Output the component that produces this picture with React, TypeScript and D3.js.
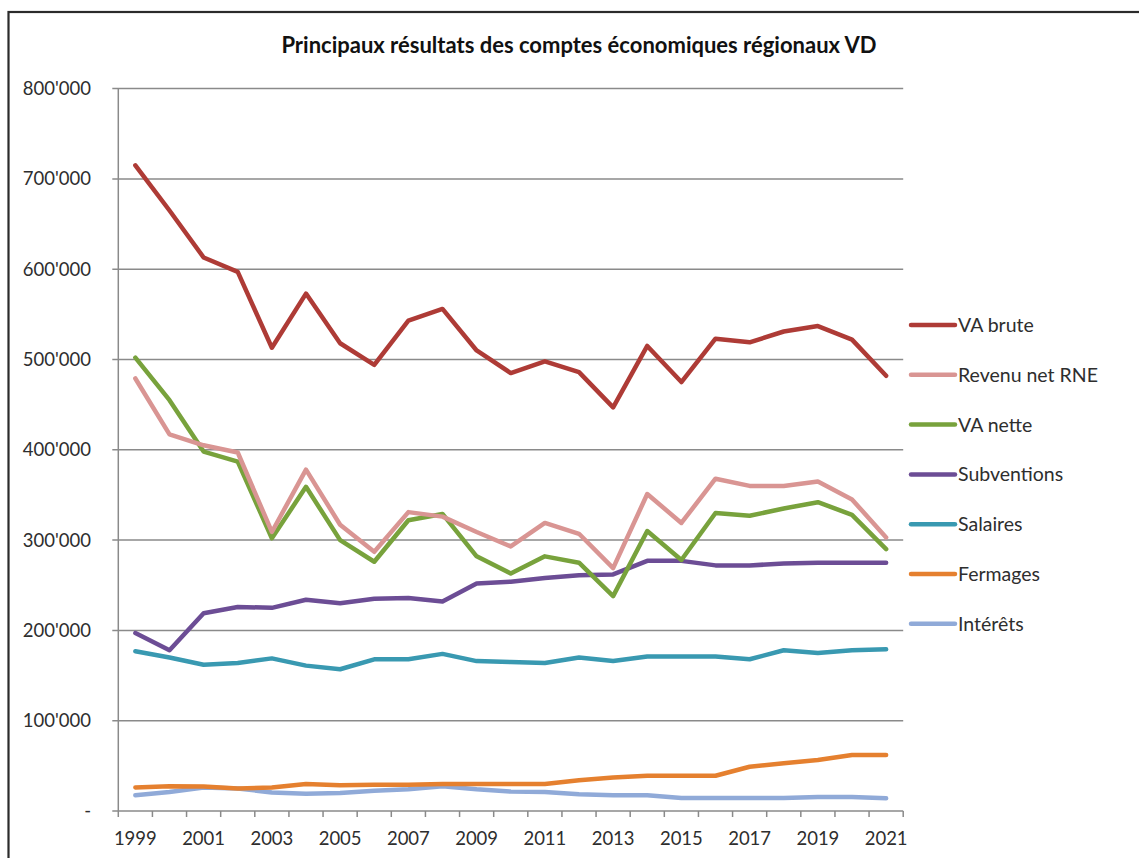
import React, { useRef, useEffect } from "react";
import * as d3 from "d3";

// Années (catégories)
const years = [
  1999, 2000, 2001, 2002, 2003, 2004, 2005, 2006, 2007, 2008, 2009, 2010, 2011,
  2012, 2013, 2014, 2015, 2016, 2017, 2018, 2019, 2020, 2021,
];

// Séries (en francs)
const vaBrute = [
  715000, 665000, 613000, 597000, 513000, 573000, 518000, 494000, 543000,
  556000, 510000, 485000, 498000, 486000, 447000, 515000, 475000, 523000,
  519000, 531000, 537000, 522000, 482000,
];
const revenuNet = [
  479000, 417000, 405000, 397000, 309000, 378000, 317000, 287000, 331000,
  326000, 309000, 293000, 319000, 307000, 269000, 351000, 319000, 368000,
  360000, 360000, 365000, 345000, 303000,
];
const vaNette = [
  502000, 455000, 398000, 387000, 302000, 359000, 300000, 276000, 322000,
  329000, 282000, 263000, 282000, 275000, 238000, 310000, 278000, 330000,
  327000, 335000, 342000, 328000, 290000,
];
const subventions = [
  197000, 178000, 219000, 226000, 225000, 234000, 230000, 235000, 236000,
  232000, 252000, 254000, 258000, 261000, 262000, 277000, 277000, 272000,
  272000, 274000, 275000, 275000, 275000,
];
const salaires = [
  177000, 170000, 162000, 164000, 169000, 161000, 157000, 168000, 168000,
  174000, 166000, 165000, 164000, 170000, 166000, 171000, 171000, 171000,
  168000, 178000, 175000, 178000, 179000,
];
const fermages = [
  26000, 27500, 27000, 25000, 26000, 30000, 28500, 29000, 29000, 30000, 30000,
  30000, 30000, 34000, 37000, 39000, 39000, 39000, 49000, 53000, 56500, 62000,
  62000,
];
const interets = [
  17500, 21000, 26000, 25000, 20500, 19000, 20000, 22500, 24000, 27500, 24000,
  21500, 21000, 18500, 17500, 17500, 14500, 14500, 14500, 14500, 15500, 15500,
  14000,
];

const seriesNames = [
  "VA brute",
  "Revenu net RNE",
  "VA nette",
  "Subventions",
  "Salaires",
  "Fermages",
  "Intérêts",
];
const seriesValues = [
  vaBrute,
  revenuNet,
  vaNette,
  subventions,
  salaires,
  fermages,
  interets,
];
const seriesColors = [
  "#AE3B36",
  "#D99593",
  "#78A23C",
  "#6C4D95",
  "#3999B1",
  "#E5802F",
  "#90AAD8",
];

const yTicks = [0, 100000, 200000, 300000, 400000, 500000, 600000, 700000, 800000];

const FONT = "Lato, 'Open Sans', sans-serif";

const App = () => {
  const ref = useRef<SVGSVGElement | null>(null);

  useEffect(() => {
    const width = 1139;
    const height = 858;
    const plot = { left: 118.3, right: 903.2, top: 88.6, bottom: 811 };

    const svg = d3.select(ref.current);
    svg.selectAll("*").remove();

    svg
      .append("rect")
      .attr("width", width)
      .attr("height", height)
      .attr("fill", "#fff");

    // cadre du graphique (coupé à droite et en bas)
    svg
      .append("rect")
      .attr("x", 8.5)
      .attr("y", 12)
      .attr("width", 1300)
      .attr("height", 1000)
      .attr("fill", "none")
      .attr("stroke", "#2b2b2b")
      .attr("stroke-width", 2.2);

    const x = d3
      .scaleBand<number>()
      .domain(years)
      .range([plot.left, plot.right])
      .padding(0);

    const y = d3
      .scaleLinear()
      .domain([0, 800000])
      .range([plot.bottom, plot.top]);

    const locale = d3.formatLocale({
      decimal: ".",
      thousands: "'",
      grouping: [3],
      currency: ["", ""],
    });
    const fmt = locale.format(",d");

    // grille horizontale
    svg
      .append("g")
      .selectAll("line")
      .data(yTicks)
      .join("line")
      .attr("x1", plot.left - 6)
      .attr("x2", plot.right)
      .attr("y1", (d) => y(d))
      .attr("y2", (d) => y(d))
      .attr("stroke", "#8a8a8a")
      .attr("stroke-width", 1.5);

    // axe vertical
    svg
      .append("line")
      .attr("x1", plot.left)
      .attr("x2", plot.left)
      .attr("y1", plot.top)
      .attr("y2", plot.bottom)
      .attr("stroke", "#8a8a8a")
      .attr("stroke-width", 1.5);

    // étiquettes de l'axe Y
    svg
      .append("g")
      .attr("font-family", FONT)
      .attr("font-size", "18.5px")
      .attr("fill", "#2e2e2e")
      .attr("text-anchor", "end")
      .selectAll("text")
      .data(yTicks)
      .join("text")
      .attr("x", 91)
      .attr("y", (d) => y(d))
      .attr("dy", "0.35em")
      .text((d) => (d === 0 ? "-" : fmt(d)));

    // graduations de l'axe X (entre les catégories)
    const boundaries = years.map((d) => x(d) as number).concat([plot.right]);
    svg
      .append("g")
      .selectAll("line")
      .data(boundaries)
      .join("line")
      .attr("x1", (d) => d)
      .attr("x2", (d) => d)
      .attr("y1", plot.bottom)
      .attr("y2", plot.bottom + 6)
      .attr("stroke", "#8a8a8a")
      .attr("stroke-width", 1.5);

    // étiquettes de l'axe X (une année sur deux)
    svg
      .append("g")
      .attr("font-family", FONT)
      .attr("font-size", "18.5px")
      .attr("fill", "#2e2e2e")
      .attr("text-anchor", "middle")
      .selectAll("text")
      .data(years.filter((d, i) => i % 2 === 0))
      .join("text")
      .attr("x", (d) => (x(d) as number) + x.bandwidth() / 2)
      .attr("y", 845)
      .text((d) => d);

    // séries
    const line = d3
      .line<number>()
      .x((d, i) => (x(years[i]) as number) + x.bandwidth() / 2)
      .y((d) => y(d));

    const order = [6, 5, 4, 3, 2, 1, 0];
    svg
      .append("g")
      .selectAll("path")
      .data(order)
      .join("path")
      .attr("d", (k) => line(seriesValues[k]))
      .attr("fill", "none")
      .attr("stroke", (k) => seriesColors[k])
      .attr("stroke-width", 4.5)
      .attr("stroke-linejoin", "round")
      .attr("stroke-linecap", "round");

    // légende
    const legend = svg
      .append("g")
      .selectAll("g")
      .data(seriesNames)
      .join("g")
      .attr("transform", (d, i) => `translate(911,${325 + i * 49.8})`);

    legend
      .append("line")
      .attr("x1", 0)
      .attr("x2", 44)
      .attr("stroke", (d, i) => seriesColors[i])
      .attr("stroke-width", 4.5)
      .attr("stroke-linecap", "round");

    legend
      .append("text")
      .attr("x", 47)
      .attr("dy", "0.36em")
      .attr("font-family", FONT)
      .attr("font-size", "19.5px")
      .attr("fill", "#2e2e2e")
      .text((d) => d);

    // titre
    svg
      .append("text")
      .attr("x", 579)
      .attr("y", 53)
      .attr("text-anchor", "middle")
      .attr("font-family", FONT)
      .attr("font-size", "22px")
      .attr("font-weight", "bold")
      .attr("fill", "#111")
      .text("Principaux résultats des comptes économiques régionaux VD");
  }, []);

  return (
    <svg
      ref={ref}
      width={1139}
      height={858}
      style={{ position: "absolute", left: 0, top: 0 }}
    />
  );
};

export default App;
